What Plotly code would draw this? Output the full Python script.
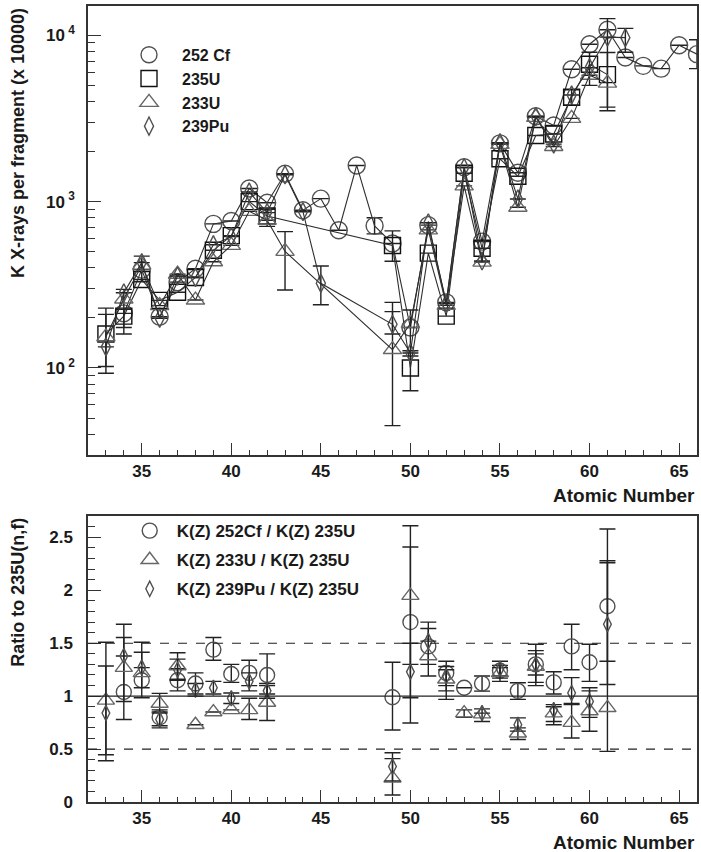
import math
import plotly.graph_objects as go

# ---------------- data ----------------
# Top panel: K X-rays per fragment (x 10000) vs atomic number Z
z_cf252 = list(range(34, 67))
k_cf252 = [213, 390, 203, 328, 395, 735, 765, 1200, 985, 1470, 887, 1042, 673, 1650,
           715, 560, 175, 722, 248, 1610, 575, 2240, 1490, 3260, 2870, 6250, 8840,
           10800, 7350, 6550, 6300, 8710, 7700]
cf252_err_z = [48, 66]
cf252_err_hi = [800, 9400]
cf252_err_lo = [640, 6300]

z_u235 = [33, 34, 35, 36, 37, 38, 39, 40, 41, 42, 49, 50, 51, 52, 53, 54, 55, 56, 57, 58, 59, 60, 61]
k_u235 = [160, 205, 340, 255, 285, 350, 510, 625, 1000, 820, 545, 100, 490, 205, 1480,
          524, 1810, 1420, 2500, 2550, 4240, 6700, 5800]
u235_err_z = [33, 34, 42, 49, 50, 59, 60, 61]
u235_err_hi = [229, 225, 900, 667, 127, 4700, 7900, 7880]
u235_err_lo = [93, 160, 710, 438, 73, 3800, 5000, 3700]

z_u233 = [33, 34, 35, 36, 37, 38, 39, 40, 41, 42, 43, 49, 50, 51, 52, 53, 54, 55, 56, 57, 58, 59, 60, 61]
k_u233 = [154, 260, 415, 237, 366, 256, 435, 546, 874, 773, 502, 129, 185, 676, 238, 1243,
          433, 2208, 926, 3212, 2147, 3167, 5750, 5160]
u233_err_z = [33, 34, 35, 43, 49, 50, 61]
u233_err_hi = [210, 297, 470, 660, 248, 223, 12600]
u233_err_lo = [102, 175, 330, 294, 45, 118, 3520]

z_pu239 = [33, 34, 35, 36, 37, 38, 39, 40, 41, 42, 43, 44, 45, 49, 50, 51, 52, 53, 54, 55,
           56, 57, 58, 59, 60, 61, 62]
k_pu239 = [134, 283, 430, 199, 357, 350, 551, 616, 1143, 859, 1450, 870, 323, 183, 123, 746,
           244, 1600, 440, 2262, 1038, 3250, 2218, 4376, 6385, 9750, 9680]
pu239_err_z = [45, 49, 62]
pu239_err_hi = [410, 218, 11000]
pu239_err_lo = [240, 160, 7900]

# Bottom panel: ratios to 235U(n,f)
z_ratio = [33, 34, 35, 36, 37, 38, 39, 40, 41, 42, 49, 50, 51, 52, 53, 54, 55, 56, 57, 58, 59, 60, 61]
r_cf = [None, 1.04, 1.15, 0.80, 1.15, 1.12, 1.44, 1.21, 1.22, 1.20, 0.99, 1.70, 1.47, 1.22,
        1.08, 1.12, 1.24, 1.05, 1.30, 1.13, 1.47, 1.32, 1.85]
r_cf_hi = [None, 1.555, 1.415, 0.87, 1.26, 1.22, 1.555, 1.30, 1.34, 1.40, 1.32, 2.41, 1.64,
           1.33, None, 1.19, 1.29, 1.127, 1.49, 1.23, 1.68, 1.49, 2.28]
r_cf_lo = [None, 0.78, 0.985, 0.72, 1.05, 1.02, 1.34, 1.13, 1.10, 1.02, 0.68, 0.985, 1.30,
           1.10, None, 1.048, 1.19, 0.97, 1.10, 1.02, 1.25, 1.14, 1.33]

r_u233 = [0.96, 1.27, 1.22, 0.93, 1.285, 0.73, 0.85, 0.87, 0.87, 0.94, 0.225, 1.95, 1.38,
          1.16, 0.84, 0.83, 1.22, 0.65, 1.28, 0.84, 0.75, 0.86, 0.89]
r_u233_hi = [1.51, 1.68, 1.51, 1.026, 1.41, None, None, None, 0.98, 1.10, 0.41, 2.61, 1.70,
             1.25, 0.87, 0.88, 1.27, 0.70, 1.43, 0.92, 0.93, 1.05, 2.58]
r_u233_lo = [0.39, 0.95, 1.08, 0.84, 1.16, None, None, None, 0.78, 0.77, 0.066, 1.30, 1.19,
             0.97, 0.80, 0.76, 1.17, 0.59, 1.13, 0.73, 0.605, 0.668, 0.478]

r_pu = [0.84, 1.38, 1.27, 0.78, 1.25, 1.06, 1.08, 0.98, 1.14, 1.05, 0.335, 1.23, 1.52, 1.19,
        None, 0.84, 1.26, 0.73, 1.30, 0.87, 1.03, 0.95, 1.68]
r_pu_hi = [1.285, None, None, 0.85, 1.35, 1.12, 1.14, 1.03, 1.22, 1.12, 0.465, 1.50, None,
           1.28, None, None, 1.33, 0.795, 1.40, 0.90, 1.175, 1.08, 2.26]
r_pu_lo = [0.446, None, None, 0.70, 1.15, 1.0, 1.02, 0.93, 1.05, 0.98, 0.20, 0.747, None,
           1.05, None, None, 1.14, 0.67, 1.20, 0.76, 0.92, 0.80, 1.11]

ratio_ref_solid = [1.0]
ratio_ref_dashed = [0.5, 1.5]

y_tickvals = [100, 1000, 10000]
y_ticktext = ["10<sup> 2</sup>", "10<sup> 3</sup>", "10<sup> 4</sup>"]

# ---------------- helpers ----------------
FONT = "Liberation Sans"
TXT = "#1a1a1a"


def sparse_err(zs, vals, ez, ehi, elo):
    up, dn = [], []
    for z, v in zip(zs, vals):
        if z in ez and v is not None:
            i = ez.index(z)
            up.append(ehi[i] - v)
            dn.append(v - elo[i])
        else:
            up.append(None)
            dn.append(None)
    return up, dn


def dense_err(vals, hi, lo):
    up = [None if (v is None or h is None) else h - v for v, h in zip(vals, hi)]
    dn = [None if (v is None or l is None) else v - l for v, l in zip(vals, lo)]
    return up, dn


fig = go.Figure()

top_series = [
    ("252 Cf", z_cf252, k_cf252, (cf252_err_z, cf252_err_hi, cf252_err_lo), "circle-open", 17, "#505050"),
    ("235U", z_u235, k_u235, (u235_err_z, u235_err_hi, u235_err_lo), "square-open", 16, "#111111"),
    ("233U", z_u233, k_u233, (u233_err_z, u233_err_hi, u233_err_lo), "triangle-up-open", 16, "#666666"),
    ("239Pu", z_pu239, k_pu239, (pu239_err_z, pu239_err_hi, pu239_err_lo), "diamond-tall-open", 13, "#505050"),
]
for name, zs, ks, (ez, ehi, elo), sym, size, col in top_series:
    up, dn = sparse_err(zs, ks, ez, ehi, elo)
    fig.add_trace(go.Scatter(
        x=zs, y=ks, name=name, mode="markers",
        marker=dict(symbol=sym, size=size, color=col, line=dict(width=1.4, color=col)),
        error_y=dict(type="data", symmetric=False, array=up, arrayminus=dn,
                     color="#222222", thickness=1.4, width=8),
        xaxis="x", yaxis="y", legend="legend",
    ))
    fig.add_trace(go.Scatter(
        x=zs, y=ks, name=name, mode="lines", showlegend=False, hoverinfo="skip",
        line=dict(color="#2e2e2e", width=1.1),
        xaxis="x", yaxis="y",
    ))

bottom_series = [
    ("K(Z) 252Cf / K(Z) 235U", r_cf, r_cf_hi, r_cf_lo, "circle-open", 15, "#505050"),
    ("K(Z) 233U / K(Z) 235U", r_u233, r_u233_hi, r_u233_lo, "triangle-up-open", 15, "#666666"),
    ("K(Z) 239Pu / K(Z) 235U", r_pu, r_pu_hi, r_pu_lo, "diamond-tall-open", 11, "#505050"),
]
for i, (name, vals, hi, lo, sym, size, col) in enumerate(bottom_series):
    up, dn = dense_err(vals, hi, lo)
    fig.add_trace(go.Scatter(
        x=z_ratio, y=vals, name=name, mode="markers", legendgroup=f"r{i}",
        marker=dict(symbol=sym, size=size, color=col, line=dict(width=1.4, color=col)),
        error_y=dict(type="data", symmetric=False, array=up, arrayminus=dn,
                     color="#222222", thickness=1.4, width=8),
        xaxis="x2", yaxis="y2", legend="legend2",
    ))

# reference lines in ratio panel
for v in ratio_ref_solid:
    fig.add_shape(type="line", xref="x2 domain", yref="y2", x0=0, x1=1, y0=v, y1=v,
                  line=dict(color="#222222", width=1.4))
for v in ratio_ref_dashed:
    fig.add_shape(type="line", xref="x2 domain", yref="y2", x0=0, x1=1, y0=v, y1=v,
                  line=dict(color="#222222", width=1.2, dash="dash"))

tickfont = dict(family=FONT, size=17, color=TXT, weight="bold")
common_x = dict(range=[32, 66], tick0=0, dtick=5, ticks="inside", ticklen=12, tickwidth=1.4,
                tickcolor="#333333", showline=True, linecolor="#333333", linewidth=1.5,
                mirror=True, showgrid=False, zeroline=False, tickfont=tickfont,
                minor=dict(dtick=1, ticks="inside", ticklen=5, tickwidth=1.2, tickcolor="#333333"))

fig.update_layout(
    width=701, height=852,
    margin=dict(l=88, r=2, t=6, b=50),
    paper_bgcolor="white", plot_bgcolor="white",
    font=dict(family=FONT, color=TXT),
    xaxis=dict(domain=[0, 1], anchor="y", **common_x),
    yaxis=dict(domain=[0.436, 1], anchor="x", type="log",
               range=[math.log10(30), math.log10(15000)],
               tickvals=y_tickvals, ticktext=y_ticktext,
               ticks="inside", ticklen=13, tickwidth=1.4, tickcolor="#333333",
               showline=True, linecolor="#333333", linewidth=1.5, mirror=True,
               showgrid=False, zeroline=False, tickfont=tickfont, ticklabelstandoff=8,
               minor=dict(dtick="D1", ticks="inside", ticklen=7, tickwidth=1.2, tickcolor="#333333")),
    xaxis2=dict(domain=[0, 1], anchor="y2", **common_x),
    yaxis2=dict(domain=[0, 0.359], anchor="x2", range=[0, 2.7], tick0=0, dtick=0.5,
                ticks="inside", ticklen=13, tickwidth=1.4, tickcolor="#333333",
                showline=True, linecolor="#333333", linewidth=1.5, mirror=True,
                showgrid=False, zeroline=False, tickfont=tickfont, ticklabelstandoff=10,
                minor=dict(dtick=0.1, ticks="inside", ticklen=7, tickwidth=1.2, tickcolor="#333333")),
    legend=dict(x=0.046, y=0.96, xanchor="left", yanchor="top", bgcolor="rgba(0,0,0,0)",
                font=dict(family=FONT, size=16, color=TXT, weight="bold"),
                itemwidth=56, itemsizing="trace", tracegroupgap=0),
    legend2=dict(x=0.057, y=0.363, xanchor="left", yanchor="top", bgcolor="rgba(0,0,0,0)",
                 font=dict(family=FONT, size=17, color=TXT, weight="bold"),
                 itemwidth=44, itemsizing="trace", tracegroupgap=4),
    showlegend=True,
)

annot_font = dict(family=FONT, size=19, color=TXT, weight="bold")
fig.add_annotation(text="Atomic Number", xref="paper", yref="paper", x=1.0, y=0.436,
                   xanchor="right", yanchor="top", yshift=-28, showarrow=False, font=annot_font)
fig.add_annotation(text="Atomic Number", xref="paper", yref="paper", x=1.0, y=0.0,
                   xanchor="right", yanchor="top", yshift=-28, showarrow=False, font=annot_font)
fig.add_annotation(text="K X-rays per fragment (x 10000)", xref="paper", yref="paper",
                   x=0, xshift=-70, y=1.0, xanchor="center", yanchor="top", textangle=-90,
                   showarrow=False, font=dict(family=FONT, size=18, color=TXT, weight="bold"))
fig.add_annotation(text="Ratio to 235U(n,f)", xref="paper", yref="paper",
                   x=0, xshift=-70, y=0.359, xanchor="center", yanchor="top", textangle=-90,
                   showarrow=False, font=dict(family=FONT, size=18, color=TXT, weight="bold"))

fig.write_html("out.html")
